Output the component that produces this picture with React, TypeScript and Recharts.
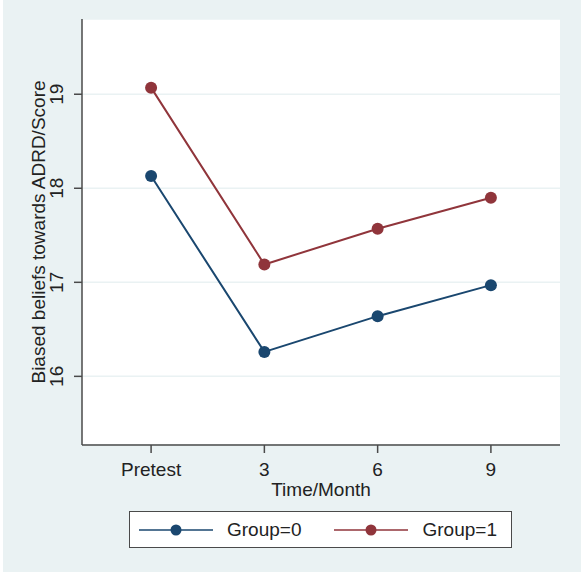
import React from 'react';
import { LineChart, Line, XAxis, YAxis, CartesianGrid } from 'recharts';

const timeLabels = ['Pretest', '3', '6', '9'];
const group0 = [18.13, 16.26, 16.64, 16.97];
const group1 = [19.07, 17.19, 17.57, 17.9];
const yTicks = [16, 17, 18, 19];

const NAVY = '#1a476f';
const MAROON = '#90353b';
const AXIS = '#4a4a4a';
const BG = '#eaf2f3';
const FONT = '"Liberation Sans", Arial, sans-serif';

const data = timeLabels.map((label, i) => ({ t: i, label, g0: group0[i], g1: group1[i] }));

// y tick labels are rotated like the axis title
function YTick(props: any) {
  const { x, y, payload } = props;
  const bx = x - 9;
  return (
    <text
      x={bx}
      y={y}
      transform={`rotate(-90, ${bx}, ${y})`}
      textAnchor="middle"
      fontSize={19}
      fill="#222"
      fontFamily={FONT}
    >
      {payload.value}
    </text>
  );
}

function YTitle(props: any) {
  const { viewBox } = props;
  const x = 45;
  const y = viewBox.y + viewBox.height / 2;
  return (
    <text
      x={x}
      y={y}
      transform={`rotate(-90, ${x}, ${y})`}
      textAnchor="middle"
      fontSize={19}
      fill="#222"
      fontFamily={FONT}
    >
      Biased beliefs towards ADRD/Score
    </text>
  );
}

function XTitle(props: any) {
  const { viewBox } = props;
  return (
    <text
      x={viewBox.x + viewBox.width / 2}
      y={496}
      textAnchor="middle"
      fontSize={19}
      fill="#222"
      fontFamily={FONT}
    >
      Time/Month
    </text>
  );
}

function LegendKey({ color, label }: { color: string; label: string }) {
  return (
    <div style={{ display: 'flex', alignItems: 'center' }}>
      <svg width={76} height={12} style={{ display: 'block' }}>
        <line x1={1} y1={6} x2={75} y2={6} stroke={color} strokeWidth={1.6} />
        <circle cx={38} cy={6} r={5.5} fill={color} />
      </svg>
      <span style={{ marginLeft: 13, fontSize: 19, color: '#222' }}>{label}</span>
    </div>
  );
}

export default function App() {
  return (
    <div style={{ position: 'fixed', top: 0, left: 0, width: 581, height: 572, background: '#fff' }}>
      <div style={{ position: 'absolute', top: 0, left: 3, width: 578, height: 572, background: BG }} />
      <div style={{ position: 'absolute', top: 0, left: 0 }}>
        <LineChart width={581} height={572} data={data} margin={{ top: 19, right: 21, left: 0, bottom: 67 }}>
          <CartesianGrid vertical={false} fill="#fff" stroke={BG} strokeWidth={1.5} />
          <XAxis
            dataKey="t"
            type="number"
            domain={[-0.61, 3.61]}
            ticks={[0, 1, 2, 3]}
            tickFormatter={(v: number) => timeLabels[v]}
            height={60}
            tickSize={8}
            tickMargin={10}
            stroke={AXIS}
            strokeWidth={1.5}
            tick={{ fontSize: 19, fill: '#222', fontFamily: FONT }}
            allowDataOverflow
            label={<XTitle />}
          />
          <YAxis
            type="number"
            domain={[15.27, 19.8]}
            ticks={yTicks}
            width={82}
            tickSize={8}
            stroke={AXIS}
            strokeWidth={1.5}
            tick={<YTick />}
            allowDataOverflow
            label={<YTitle />}
          />
          <Line
            dataKey="g0"
            stroke={NAVY}
            strokeWidth={2}
            dot={{ r: 6, fill: NAVY, stroke: NAVY, strokeWidth: 0 }}
            isAnimationActive={false}
          />
          <Line
            dataKey="g1"
            stroke={MAROON}
            strokeWidth={2}
            dot={{ r: 6, fill: MAROON, stroke: MAROON, strokeWidth: 0 }}
            isAnimationActive={false}
          />
        </LineChart>
      </div>
      <div
        style={{
          position: 'absolute',
          left: 129,
          top: 511,
          width: 383,
          height: 37,
          boxSizing: 'border-box',
          border: `1.3px solid ${AXIS}`,
          background: '#fff',
          display: 'flex',
          alignItems: 'center',
          paddingLeft: 8,
          gap: 32,
          fontFamily: FONT,
        }}
      >
        <LegendKey color={NAVY} label="Group=0" />
        <LegendKey color={MAROON} label="Group=1" />
      </div>
    </div>
  );
}
